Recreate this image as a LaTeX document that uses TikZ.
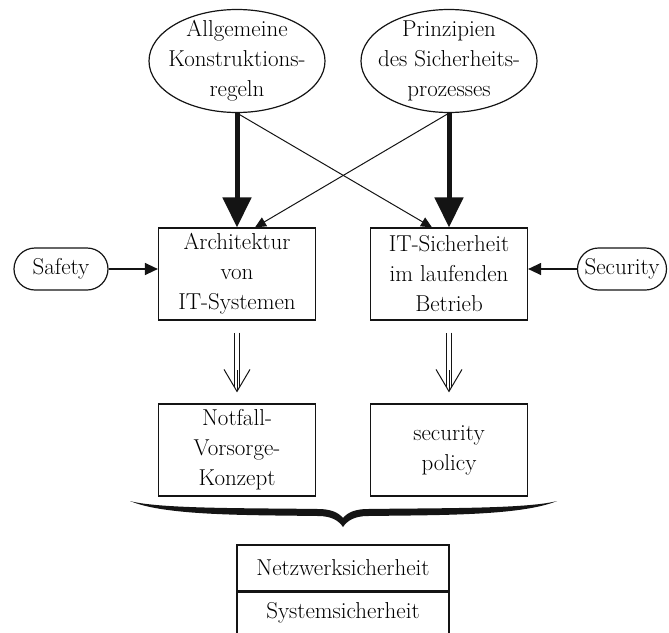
\documentclass[tikz,border=0pt]{standalone}
\usepackage{tikz}
\usetikzlibrary{positioning,arrows.meta,calc,shapes.geometric,shapes.misc}
\definecolor{InkBlack}{RGB}{20,20,20}
\newcommand{\diafont}{\fontsize{23}{30}\selectfont}
\tikzset{
  flow/.style={-{Triangle[length=11pt,width=10pt]},line width=1pt,draw=InkBlack},
  sideflow/.style={-{Triangle[length=13pt,width=12pt]},line width=1.3pt,draw=InkBlack},
  thickflow/.style={-{Triangle[length=30pt,width=28pt]},line width=5pt,draw=InkBlack},
  implshaft/.style={double=white,double distance=4pt,line width=1pt,draw=InkBlack},
  implhead/.style={-{Straight Barb[length=22pt,width=26pt]},line width=1pt,draw=InkBlack},
  box/.style={draw=InkBlack,line width=1.2pt,minimum width=157pt,
    minimum height=92pt,align=center,inner sep=0pt,font=\diafont},
  ovalbox/.style={ellipse,draw=InkBlack,line width=1.2pt,minimum width=176pt,
    minimum height=103pt,inner sep=0pt},
  ovaltext/.style={align=center,inner sep=0pt,font=\diafont},
  pillbox/.style={rounded rectangle,draw=InkBlack,line width=1.2pt,
    minimum height=42pt,inner xsep=2pt,font=\diafont},
  cellbox/.style={draw=InkBlack,line width=1.2pt,minimum width=212pt,
    inner sep=0pt,font=\diafont}
}

\begin{document}
\begin{tikzpicture}[x=1pt,y=-1pt]
  \useasboundingbox (0,0) rectangle (669,632);
  % oben
  \node[ovalbox] (alg) at (237,61) {};
  \node[ovaltext] (algtext) at (alg) {Allgemeine\\Konstruktions-\\regeln};
  \node[ovalbox] (prin) at (449,61) {};
  \node[ovaltext] (printext) at (prin) {Prinzipien\\des Sicherheits-\\prozesses};
  % mitte
  \node[box] (arch) at (237,274) {Architektur\\von\\IT-Systemen};
  \node[box] (betr) at (449,274) {IT-Sicherheit\\im laufenden\\Betrieb};
  \node[pillbox,minimum width=98pt] (safety) at (61,269) {Safety};
  \node[pillbox,minimum width=93pt] (security) at (622,269) {Security};
  % unten
  \node[box] (notf) at (237,450) {Notfall-\\Vorsorge-\\Konzept};
  \node[box] (policy) at (449,450) {security\\policy};
  \node[cellbox,minimum height=46pt] (netz) at (343,568) {Netzwerksicherheit};
  \node[cellbox,minimum height=41pt,below=0pt of netz] (sys) {Systemsicherheit};
  \draw[thickflow] (alg.south) -- (arch.north);
  \draw[thickflow] (prin.south) -- (betr.north);
  \draw[flow] (alg.south) -- ($(betr.north)+(-17,0)$);
  \draw[flow] (prin.south) -- ($(arch.north)+(18,0)$);
  \draw[sideflow] (safety.east) -- (safety.east -| arch.west);
  \draw[sideflow] (security.west) -- (security.west -| betr.east);
  % Doppelpfeile
  \coordinate (archout) at ([yshift=-12pt]arch.south);
  \coordinate (notfin) at ([yshift=11pt]notf.north);
  \coordinate (betrout) at ([yshift=-12pt]betr.south);
  \coordinate (policyin) at ([yshift=11pt]policy.north);
  \draw[implshaft] (archout) -- ([yshift=5pt]notfin);
  \draw[implhead] ([yshift=22pt]notfin) -- (notfin);
  \draw[implshaft] (betrout) -- ([yshift=5pt]policyin);
  \draw[implhead] ([yshift=22pt]policyin) -- (policyin);
  % Klammer
  \coordinate (bl) at (130,501);
  \coordinate (br) at (557,501);
  \coordinate (btip) at (343,527);
  \fill[InkBlack] (bl) .. controls (165,516) and (250,515) .. (318,516)
    .. controls (332,516) and (339,521) .. (btip)
    .. controls (347,521) and (354,516) .. (368,516)
    .. controls (436,515) and (521,516) .. (br)
    .. controls (527,509) and (436,508) .. (368,509)
    .. controls (356,509) and (348,512) .. (343,518)
    .. controls (338,512) and (330,509) .. (318,509)
    .. controls (250,508) and (159,509) .. (bl) -- cycle;
\end{tikzpicture}
\end{document}
